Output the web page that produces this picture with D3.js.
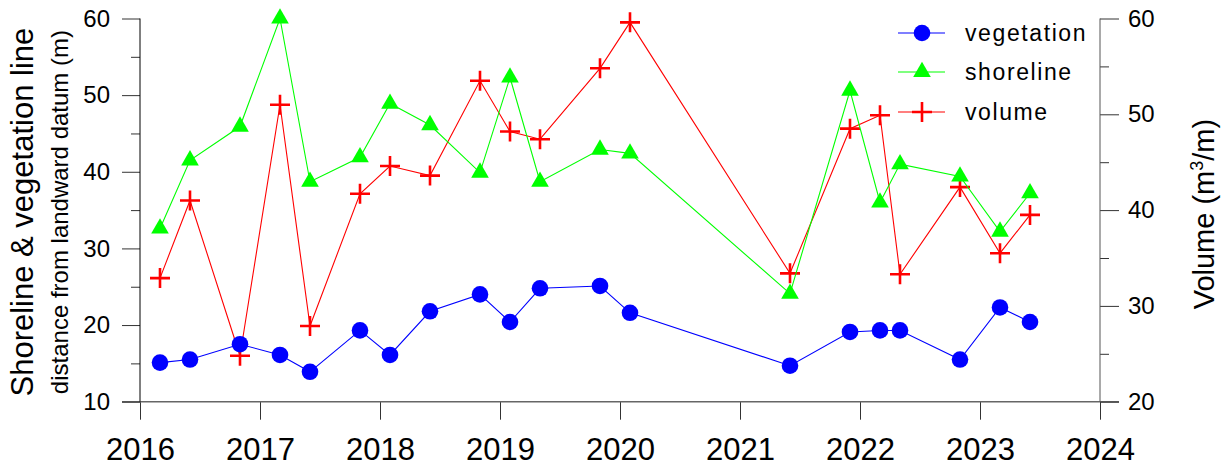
<!DOCTYPE html>
<html>
<head>
<meta charset="utf-8">
<script src="https://cdn.jsdelivr.net/npm/d3@7"></script>
<style>
  html, body { margin: 0; padding: 0; background: #fff; }
  svg { display: block; font-family: "Liberation Sans", Arial, sans-serif; }
</style>
</head>
<body>
<svg id="chart" width="1230" height="467"></svg>
<script>
// Survey dates (year-month)
const dates = ["2016-03","2016-06","2016-11","2017-03","2017-06","2017-11","2018-02","2018-06",
  "2018-11","2019-02","2019-05","2019-11","2020-02","2021-06","2021-12","2022-03",
  "2022-05","2022-11","2023-03","2023-06"];
// Distance from landward datum (m)
const vegetation = [15.1,15.5,17.5,16.1,13.9,19.3,16.1,21.8,24.0,20.4,24.8,25.1,21.6,14.7,19.1,19.3,19.3,15.5,22.3,20.4];
const shoreline  = [32.6,41.5,45.9,60.0,38.7,41.9,48.9,46.1,39.9,52.3,38.7,42.9,42.4,24.1,50.6,36.0,41.0,39.4,32.2,37.2];
// Beach volume (m3/m)
const volume     = [32.9,41.0,24.8,51.0,27.9,41.7,44.6,43.6,53.5,48.2,47.4,54.8,59.6,33.4,48.5,49.9,33.3,42.4,35.5,39.5];
// Axis ticks
const yearTicks  = [2016,2017,2018,2019,2020,2021,2022,2023,2024];
const leftTicks  = [10,20,30,40,50,60];
const leftMinor  = [15,25,35,45,55];
const rightTicks = [20,30,40,50,60];
const rightMinor = [25,35,45,55];
const seriesNames = ["vegetation","shoreline","volume"];

const svg = d3.select("#chart");
const L = 140, R = 1100, T = 18.5, B = 401.7;

const toYear = s => { const [y, m] = s.split("-").map(Number); return y + (m - 1) / 12; };
const xs = dates.map(toYear);

const x  = d3.scaleLinear().domain([2016, 2024]).range([L, R]);
const yL = d3.scaleLinear().domain([10, 60]).range([B, T]);
const yR = d3.scaleLinear().domain([20, 60]).range([B, T]);

const axisColor = "#333";

// Bottom axis
const gx = svg.append("g").attr("transform", `translate(0,${B})`)
  .call(d3.axisBottom(x).tickValues(yearTicks).tickFormat(d3.format("d")).tickSize(18).tickPadding(18));
gx.select(".domain").remove();
gx.selectAll("line").attr("stroke", axisColor);
gx.selectAll("text").attr("font-size", 31).attr("fill", "#000");
svg.append("line").attr("x1", L - 18).attr("x2", R + 19).attr("y1", B).attr("y2", B)
  .attr("stroke", "#666").attr("stroke-width", 1.6);

// Left axis
const gl = svg.append("g").attr("transform", `translate(${L},0)`)
  .call(d3.axisLeft(yL).tickValues(leftTicks).tickSize(18).tickPadding(12));
gl.select(".domain").remove();
gl.selectAll("line").attr("stroke", axisColor);
gl.selectAll("text").attr("font-size", 24).attr("fill", "#000");
svg.append("g").attr("transform", `translate(${L},0)`)
  .call(d3.axisLeft(yL).tickValues(leftMinor).tickSize(9).tickFormat(""))
  .call(g => g.select(".domain").remove())
  .selectAll("line").attr("stroke", axisColor);
svg.append("line").attr("x1", L).attr("x2", L).attr("y1", T).attr("y2", B).attr("stroke", "#000");

// Right axis
const gr = svg.append("g").attr("transform", `translate(${R},0)`)
  .call(d3.axisRight(yR).tickValues(rightTicks).tickSize(19).tickPadding(9));
gr.select(".domain").remove();
gr.selectAll("line").attr("stroke", axisColor);
gr.selectAll("text").attr("font-size", 24).attr("fill", "#000");
svg.append("g").attr("transform", `translate(${R},0)`)
  .call(d3.axisRight(yR).tickValues(rightMinor).tickSize(9).tickFormat(""))
  .call(g => g.select(".domain").remove())
  .selectAll("line").attr("stroke", axisColor);
svg.append("line").attr("x1", R).attr("x2", R).attr("y1", T).attr("y2", B).attr("stroke", "#555");

// Axis titles
svg.append("text").attr("transform", `translate(33,${(T + B) / 2 + 2}) rotate(-90)`)
  .attr("text-anchor", "middle").attr("font-size", 31).text("Shoreline & vegetation line");
svg.append("text").attr("transform", `translate(68,${(T + B) / 2 + 2}) rotate(-90)`)
  .attr("text-anchor", "middle").attr("font-size", 24).text("distance from landward datum (m)");
const rt = svg.append("text").attr("transform", `translate(1214,${(T + B) / 2 + 4}) rotate(-90)`)
  .attr("text-anchor", "middle").attr("font-size", 29);
rt.append("tspan").text("Volume (m");
rt.append("tspan").attr("font-size", 18).attr("dy", -11).text("3");
rt.append("tspan").attr("dy", 11).text("/m)");

// Marker shapes
const circlePath = d3.symbol().type(d3.symbolCircle).size(Math.PI * 8.3 * 8.3)();
const triPath = d3.symbol().type(d3.symbolTriangle).size(135)();
const crossPath = "M-10,0H10M0,-10V10";

const series = [
  { name: seriesNames[0], values: vegetation, y: yL, color: "#0000ff", marker: "circle" },
  { name: seriesNames[1], values: shoreline,  y: yL, color: "#00ff00", marker: "tri" },
  { name: seriesNames[2], values: volume,     y: yR, color: "#ff0000", marker: "cross" }
];

function drawMarker(g, type, color) {
  if (type === "circle") g.append("path").attr("d", circlePath).attr("fill", color);
  else if (type === "tri") g.append("path").attr("d", triPath).attr("fill", color);
  else g.append("path").attr("d", crossPath).attr("stroke", color).attr("stroke-width", 2.6).attr("fill", "none");
}

// Draw in order: volume, shoreline, vegetation on top
[series[2], series[1], series[0]].forEach(s => {
  const line = d3.line().x((d, i) => x(xs[i])).y(d => s.y(d));
  svg.append("path").datum(s.values).attr("d", line)
    .attr("fill", "none").attr("stroke", s.color).attr("stroke-width", 1.1);
  s.values.forEach((v, i) => {
    const g = svg.append("g").attr("transform", `translate(${x(xs[i])},${s.y(v)})`);
    drawMarker(g, s.marker, s.color);
  });
});

// Legend
const legY = [33, 72, 112];
series.forEach((s, i) => {
  const g = svg.append("g").attr("transform", `translate(0,${legY[i]})`);
  g.append("line").attr("x1", 898).attr("x2", 945).attr("y1", 0).attr("y2", 0)
    .attr("stroke", s.color).attr("stroke-width", 1.1);
  const m = g.append("g").attr("transform", "translate(922,0)");
  drawMarker(m, s.marker, s.color);
  g.append("text").attr("x", 965).attr("y", 8).attr("font-size", 23)
    .attr("letter-spacing", 1.6).text(s.name);
});
</script>
</body>
</html>
